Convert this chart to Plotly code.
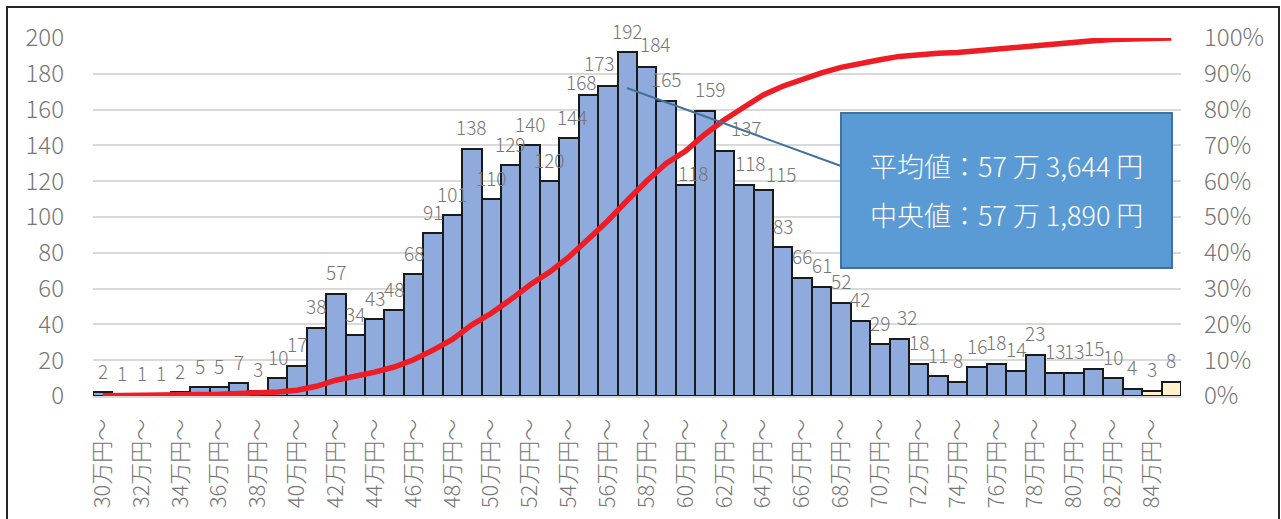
import plotly.graph_objects as go

categories = [
    "30万円～", "31万円～", "32万円～", "33万円～", "34万円～", "35万円～", "36万円～", "37万円～",
    "38万円～", "39万円～", "40万円～", "41万円～", "42万円～", "43万円～", "44万円～", "45万円～",
    "46万円～", "47万円～", "48万円～", "49万円～", "50万円～", "51万円～", "52万円～", "53万円～",
    "54万円～", "55万円～", "56万円～", "57万円～", "58万円～", "59万円～", "60万円～", "61万円～",
    "62万円～", "63万円～", "64万円～", "65万円～", "66万円～", "67万円～", "68万円～", "69万円～",
    "70万円～", "71万円～", "72万円～", "73万円～", "74万円～", "75万円～", "76万円～", "77万円～",
    "78万円～", "79万円～", "80万円～", "81万円～", "82万円～", "83万円～", "84万円～", "85万円～",
]
counts = [
    2, 1, 1, 1, 2, 5, 5, 7, 3, 10, 17, 38, 57, 34, 43, 48, 68, 91, 101, 138,
    110, 129, 140, 120, 144, 168, 173, 192, 184, 165, 118, 159, 137, 118, 115, 83, 66, 61, 52, 42,
    29, 32, 18, 11, 8, 16, 18, 14, 23, 13, 13, 15, 10, 4, 3, 8,
]
highlight = categories[-2:]          # last two bins drawn in pale yellow
tick_labels = categories[::2]        # every other category is labelled
left_ticks = [0, 20, 40, 60, 80, 100, 120, 140, 160, 180, 200]
right_ticks = [0, 0.1, 0.2, 0.3, 0.4, 0.5, 0.6, 0.7, 0.8, 0.9, 1.0]
box_lines = ["平均値：57 万 3,644 円", "中央値：57 万 1,890 円"]

# manual placement tweaks of individual data labels (pixels: dx, height above bar)
label_nudges = {
    "54万円～": (3, 22), "55万円～": (-7, 14), "56万円～": (-8, 24),
    "58万円～": (9, 23), "60万円～": (8, 12), "61万円～": (5, 23),
    "62万円～": (22, 23), "63万円～": (7, 22), "64万円～": (18, 17),
    "71万円～": (8, 22),
}

total = sum(counts)
cum_share = []
running = 0
for c in counts:
    running += c
    cum_share.append(running / total)

FONT = "Noto Sans CJK JP"
GRAY = "#767676"
bar_colors = ["#FFF2CC" if c in highlight else "#8FAADC" for c in categories]

fig = go.Figure()
fig.add_trace(go.Bar(
    x=categories, y=counts,
    marker=dict(color=bar_colors, line=dict(color="#1a1a1a", width=2)),
    yaxis="y", showlegend=False, hoverinfo="x+y",
))
fig.add_trace(go.Scatter(
    x=categories, y=cum_share, mode="lines",
    line=dict(color="#EE1C25", width=5.5),
    yaxis="y2", showlegend=False,
))

annotations = []
for cat, v in zip(categories, counts):
    dx, dy = label_nudges.get(cat, (0, 22))
    annotations.append(dict(
        x=cat, y=v, xref="x", yref="y", text=str(v), showarrow=False,
        xshift=dx, yshift=dy, font=dict(family=FONT, size=19, color=GRAY, weight=300),
    ))

# text box
bx0, bx1 = (841 - 93) / 1088, (1172 - 93) / 1088
by1, by0 = 1 - (113 - 38) / 358, (396 - 268) / 358
line_y = [1 - (165 - 38) / 358, 1 - (215 - 38) / 358]
for t, yy in zip(box_lines, line_y):
    annotations.append(dict(
        x=(bx0 + bx1) / 2, y=yy,
        xref="paper", yref="paper", text=t, showarrow=False,
        xanchor="center", yanchor="middle",
        font=dict(family=FONT, size=27, color="white", weight=300),
    ))

shapes = [
    # outer chart border
    dict(type="rect", xref="paper", yref="paper",
         x0=(7 - 93) / 1088, x1=(1279 - 93) / 1088,
         y0=(396 - 540) / 358, y1=1 + (38 - 7) / 358,
         line=dict(color="#262626", width=2), fillcolor="rgba(0,0,0,0)", layer="below"),
    # connector line
    dict(type="line", xref="paper", yref="paper",
         x0=(627 - 93) / 1088, y0=1 - (88 - 38) / 358,
         x1=bx0, y1=(396 - 166) / 358,
         line=dict(color="#41719C", width=2)),
    # box
    dict(type="rect", xref="paper", yref="paper",
         x0=bx0, x1=bx1, y0=by0, y1=by1,
         fillcolor="#5B9BD5", line=dict(color="#41719C", width=2)),
]

tickfont = dict(family=FONT, size=24, color=GRAY, weight=300)

fig.update_layout(
    width=1281, height=519,
    margin=dict(l=93, r=100, t=38, b=123, pad=0),
    paper_bgcolor="white", plot_bgcolor="white",
    bargap=0,
    font=dict(family=FONT, color=GRAY),
    xaxis=dict(
        type="category", range=[-0.5, len(categories) - 0.5],
        tickmode="array", tickvals=tick_labels, ticktext=tick_labels,
        tickangle=-90, tickfont=dict(family=FONT, size=22, color=GRAY, weight=300),
        ticks="", showgrid=False, showline=True, linecolor="#D9D9D9", linewidth=2,
        ticklabelstandoff=12, automargin=False, fixedrange=True,
    ),
    yaxis=dict(
        range=[0, 200], tickvals=left_ticks, tickfont=tickfont,
        showgrid=True, gridcolor="#D9D9D9", gridwidth=1.5,
        zeroline=False, showline=False, ticks="", ticklabelstandoff=28,
        automargin=False,
    ),
    yaxis2=dict(
        range=[0, 1], overlaying="y", side="right", tickvals=right_ticks,
        tickformat=".0%", tickfont=tickfont,
        showgrid=False, zeroline=False, showline=False, ticks="", ticklabelstandoff=22,
        automargin=False,
    ),
    annotations=annotations,
    shapes=shapes,
)

fig.write_html(
    "out.html",
    config={"displayModeBar": False},
    post_script="document.body.style.margin='0';document.body.style.overflow='hidden';",
)
